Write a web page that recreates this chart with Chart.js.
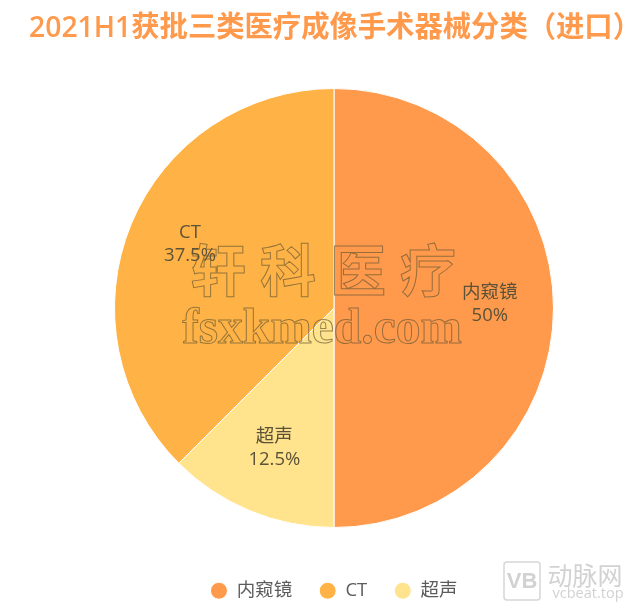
<!DOCTYPE html>
<html><head><meta charset="utf-8">
<script src="https://cdn.jsdelivr.net/npm/chart.js@4"></script>
<style>html,body{margin:0;padding:0;background:#fff}#w{position:relative;width:640px;height:610px}</style>
</head><body><div id="w"><canvas id="c" width="640" height="610"></canvas></div>
<script>
const titleText = '2021H1获批三类医疗成像手术器械分类（进口）';
const categories = ['内窥镜', '超声', 'CT'];
const values = [50, 12.5, 37.5];
const valueLabels = ['50%', '12.5%', '37.5%'];
const colors = ['#FF9A4D', '#FFE38D', '#FFB347'];
const legendOrder = ['内窥镜', 'CT', '超声'];
const labelRadiusRatio = 0.71;
const FONT = '"Open Sans","Noto Sans CJK SC",sans-serif';

const adjustLayout = { id:'adjustLayout', afterLayout(chart){
  const a = chart.chartArea; a.top = 88; a.bottom = 528; a.height = a.bottom - a.top;
  chart.titleBlock.left += 1; chart.titleBlock.right += 1;
}};
const sliceLabels = { id:'sliceLabels', afterDatasetsDraw(chart){
  const ctx = chart.ctx, arcs = chart.getDatasetMeta(0).data;
  ctx.save(); ctx.fillStyle='#5c5238'; ctx.font='18.5px '+FONT; ctx.textAlign='center'; ctx.textBaseline='middle';
  arcs.forEach((arc,i)=>{
    const mid=(arc.startAngle+arc.endAngle)/2, r=arc.outerRadius*labelRadiusRatio;
    const x=arc.x+Math.cos(mid)*r, y=arc.y+Math.sin(mid)*r;
    ctx.fillText(categories[i],x,y-15.5); ctx.fillText(valueLabels[i],x,y+7.5);
  });
  ctx.restore();
}};
const watermark = { id:'watermark', afterDraw(chart){
  const ctx = chart.ctx; ctx.save();
  ctx.strokeStyle='rgba(105,90,50,.7)'; ctx.lineWidth=1; ctx.textAlign='center'; ctx.textBaseline='middle';
  ctx.font='bold 56px "Noto Sans CJK SC"';
  ['轩','科','医','疗'].forEach((t,i)=>ctx.strokeText(t,218+i*70,270));
  ctx.font='bold 49.6px "Liberation Serif"';
  ctx.strokeText('fsxkmed.com',322,330);
  ctx.strokeStyle='#d6d6d6'; ctx.fillStyle='#d2d2d2'; ctx.lineWidth=1.5;
  ctx.beginPath(); ctx.roundRect(504,562,36,38,3); ctx.stroke();
  ctx.font='bold 22px "Liberation Sans"'; ctx.fillText('VB',522,582);
  ctx.font='25px "Noto Sans CJK SC"'; ctx.fillText('动脉网',585,575);
  ctx.font='14.5px "Open Sans"'; ctx.fillText('vcbeat.top',588,594);
  ctx.restore();
}};
new Chart(document.getElementById('c'), {
  type:'pie',
  data:{ labels:categories, datasets:[{ data:values, backgroundColor:colors, borderColor:'#fff', borderWidth:1 }] },
  plugins:[adjustLayout, sliceLabels, watermark],
  options:{
    responsive:false, animation:false,
    layout:{ padding:{ left:28, right:0, top:11, bottom:0 } },
    plugins:{
      tooltip:{enabled:false},
      title:{ display:true, text:titleText, color:'#FF9A4D', font:{family:FONT,size:29.1,weight:'600'}, padding:{top:0,bottom:30} },
      legend:{ position:'bottom', labels:{
        usePointStyle:true, pointStyle:'circle', boxWidth:17, boxHeight:12, pointStyleWidth:17, padding:27, color:'#5c5c5c',
        font:{family:FONT,size:18.5},
        sort:(a,b)=>legendOrder.indexOf(a.text)-legendOrder.indexOf(b.text)
      }}
    }
  }
});
</script></body></html>
